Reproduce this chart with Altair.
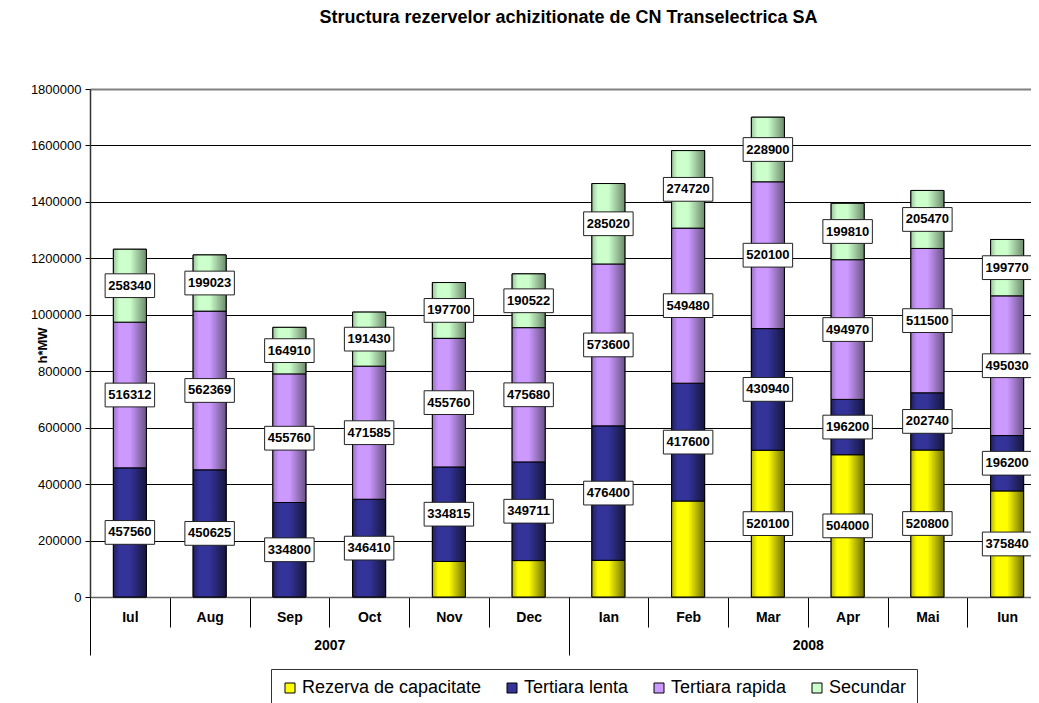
import altair as alt
import pandas as pd

FONT = "Liberation Sans"

title_text = "Structura rezervelor achizitionate de CN Transelectrica SA"
months = ["Iul", "Aug", "Sep", "Oct", "Nov", "Dec", "Ian", "Feb", "Mar", "Apr", "Mai", "Iun"]
years = ["2007"] * 6 + ["2008"] * 6
year_names = ["2007", "2008"]
series_names = ["Rezerva de capacitate", "Tertiara lenta", "Tertiara rapida", "Secundar"]

rezerva = [0, 0, 0, 0, 126000, 129000, 130000, 340000, 520100, 504000, 520800, 375840]
lenta = [457560, 450625, 334800, 346410, 334815, 349711, 476400, 417600, 430940, 196200, 202740, 196200]
rapida = [516312, 562369, 455760, 471585, 455760, 475680, 573600, 549480, 520100, 494970, 511500, 495030]
secundar = [258340, 199023, 164910, 191430, 197700, 190522, 285020, 274720, 228900, 199810, 205470, 199770]

# months where the "Rezerva de capacitate" segment carries a value label
yellow_labelled = ["Mar", "Apr", "Mai", "Iun"]

y_ticks = [0, 200000, 400000, 600000, 800000, 1000000, 1200000, 1400000, 1600000, 1800000]

series_colors = ["#FFFF00", "#333399", "#CC99FF", "#CCFFCC"]
series_left = ["#B8B800", "#20205F", "#9A74C2", "#9CC49C"]
series_dark = ["#6E6E00", "#16163F", "#6A5285", "#6C8A6C"]

rows = []
for si, (name, vals) in enumerate(zip(series_names, [rezerva, lenta, rapida, secundar])):
    for m, yr, v in zip(months, years, vals):
        rows.append(dict(month=m, year=yr, series=name, order=si, value=v,
                         labelled=bool(v > 0 and (si > 0 or m in yellow_labelled))))
df = pd.DataFrame(rows)

W = 957
H = 508

month_axis = alt.Axis(title=None, tickBand="extent", tickSize=30, tickColor="black", tickWidth=1,
                      labelAngle=0, labelFont=FONT, labelFontSize=14, labelFontWeight="bold",
                      labelColor="black", labelBaseline="middle", labelPadding=-10,
                      domainColor="#666666", domainWidth=1.5, grid=False)

y_axis = alt.Axis(title="h*MW", values=y_ticks, format="d", labelFont=FONT, labelFontSize=13,
                  labelColor="black", tickSize=5, tickColor="black", labelPadding=4,
                  domainColor="#333333", domainWidth=1.5, grid=True,
                  gridColor={"condition": {"test": "datum.value >= 1800000", "value": "#808080"},
                             "value": "black"},
                  gridWidth={"condition": {"test": "datum.value >= 1800000", "value": 2},
                             "value": 1},
                  titleFont=FONT, titleFontSize=13, titleFontWeight="bold",
                  titleColor="black", titleX=-48, titleY=256, titleAngle=270,
                  titleBaseline="middle")

year_axis = alt.Axis(orient="bottom", title=None, tickBand="extent", tickSize=58,
                     tickColor="black", tickWidth=1, domain=False, labelAngle=0,
                     labelFont=FONT, labelFontSize=14, labelFontWeight="bold",
                     labelColor="black", labelBaseline="middle", labelPadding=-10,
                     grid=False)


def x_month():
    return alt.X("month:N", sort=months, title=None,
                 scale=alt.Scale(domain=months, paddingInner=0, paddingOuter=0),
                 axis=month_axis)


def y_enc(field):
    return alt.Y(field, title="h*MW", scale=alt.Scale(domain=[0, 1800000], nice=False, zero=True),
                 axis=y_axis)


base = alt.Chart(df).transform_filter("datum.value > 0").transform_stack(
    stack="value", groupby=["month"], as_=["y0", "y1"],
    sort=[alt.SortField("order", order="ascending")])

bars = base.mark_bar(width=33, stroke="black", strokeWidth=1).encode(
    x=x_month(),
    y=y_enc("y0:Q"),
    y2="y1:Q",
    color=alt.Color("series:N", sort=series_names,
                    scale=alt.Scale(domain=series_names, range=series_colors),
                    legend=alt.Legend(title=None, orient="none", legendX=181, legendY=580,
                                      direction="horizontal", labelFont=FONT, labelFontSize=18,
                                      labelColor="black", labelLimit=400, symbolType="square",
                                      symbolSize=100, symbolStrokeColor="black",
                                      symbolStrokeWidth=1, symbolOpacity=1, strokeColor="#333333",
                                      fillColor="white", padding=10, columnPadding=21,
                                      labelOffset=3)),
)

grad_layers = []
for name, c, l, d in zip(series_names, series_colors, series_left, series_dark):
    g = alt.LinearGradient(gradient="linear", x1=0, y1=0, x2=1, y2=0, stops=[
        alt.GradientStop(color=l, offset=0),
        alt.GradientStop(color=c, offset=0.18),
        alt.GradientStop(color=c, offset=0.5),
        alt.GradientStop(color=d, offset=1),
    ])
    grad_layers.append(
        base.transform_filter(alt.datum.series == name).mark_bar(
            width=33, fill=g, stroke="black", strokeWidth=1).encode(
            x=x_month(), y=y_enc("y0:Q"), y2="y1:Q")
    )

labels_base = base.transform_filter("datum.labelled").transform_calculate(
    mid="(datum.y0 + datum.y1) / 2")

boxes = labels_base.mark_point(shape="M-1,-0.48H1V0.48H-1Z", size=2450, filled=True,
                               fill="white", stroke="#222222", strokeWidth=1, opacity=1).encode(
    x=x_month(), y=y_enc("mid:Q"))

texts = labels_base.mark_text(font=FONT, fontSize=13, fontWeight="bold", color="black",
                              baseline="middle", align="center").encode(
    x=x_month(), y=y_enc("mid:Q"), text=alt.Text("value:Q", format="d"))

inner = alt.layer(bars, *grad_layers, boxes, texts)

year_layer = alt.Chart(df).mark_point(opacity=0).encode(
    x=alt.X("year:N", title=None, scale=alt.Scale(domain=year_names, paddingInner=0, paddingOuter=0),
            axis=year_axis),
    y=y_enc("value:Q"),
)

chart = alt.layer(inner, year_layer).resolve_scale(x="independent").properties(
    width=W, height=H,
    title=alt.TitleParams(title_text, font=FONT, fontSize=18, fontWeight="bold", color="black",
                          anchor="middle", frame="group", offset=56),
    padding={"left": 82, "top": 81, "right": -16, "bottom": 120},
    autosize=alt.AutoSizeParams(type="none"),
).configure_view(stroke="#808080", strokeWidth=2).configure(background="white")

chart.save("out.html", embed_options={"renderer": "svg", "actions": False})
